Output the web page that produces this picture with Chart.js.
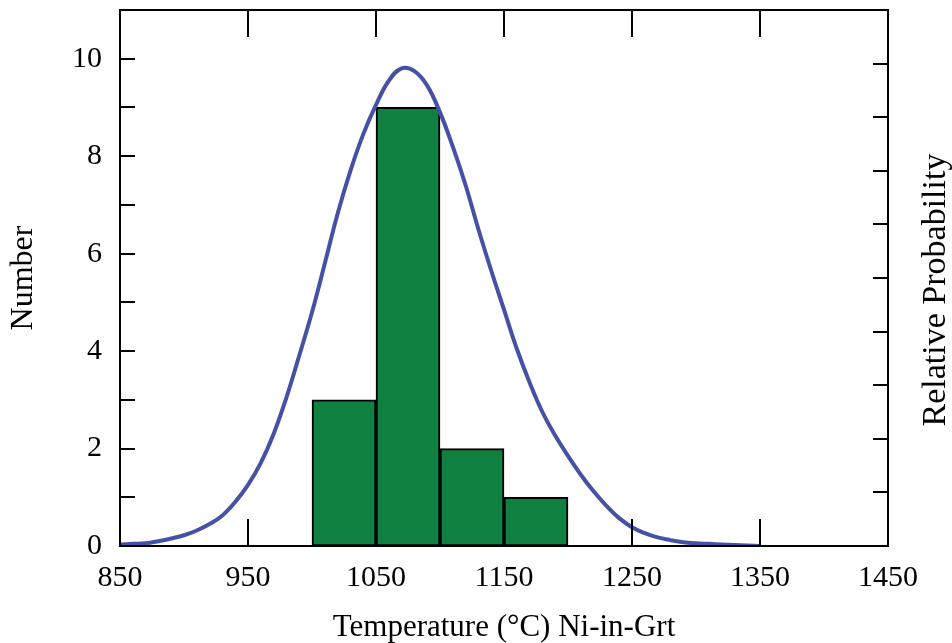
<!DOCTYPE html>
<html>
<head>
<meta charset="utf-8">
<script src="https://cdn.jsdelivr.net/npm/chart.js@4.4.1/dist/chart.umd.min.js"></script>
<style>
  html, body { margin: 0; padding: 0; background: #fff; }
  #wrap { width: 952px; height: 643px; }
</style>
</head>
<body>
<div id="wrap"><canvas id="tempChart" width="952" height="643"></canvas></div>
<script>
// histogram bins (deg C) and counts
const binEdges = [1000, 1050, 1100, 1150, 1200];
const binCounts = [3, 9, 2, 1];

// relative probability curve, sampled every 10 deg C
const curveTemps = [
  850, 860, 870, 880, 890, 900, 910, 920, 930, 940,
  950, 960, 970, 980, 990, 1000, 1010, 1020, 1030, 1040,
  1050, 1060, 1070, 1080, 1090, 1100, 1110, 1120, 1130, 1140,
  1150, 1160, 1170, 1180, 1190, 1200, 1210, 1220, 1230, 1240,
  1250, 1260, 1270, 1280, 1290, 1300, 1310, 1320, 1330, 1340, 1350
];
const curveProb = [
  0.003, 0.004, 0.005, 0.009, 0.014, 0.020, 0.029, 0.041, 0.057, 0.082,
  0.114, 0.155, 0.209, 0.277, 0.355, 0.436, 0.527, 0.620, 0.700, 0.768,
  0.823, 0.868, 0.891, 0.886, 0.859, 0.809, 0.745, 0.673, 0.591, 0.514,
  0.441, 0.368, 0.305, 0.250, 0.206, 0.168, 0.133, 0.102, 0.075, 0.052,
  0.035, 0.024, 0.016, 0.011, 0.007, 0.005, 0.004, 0.003, 0.002, 0.001, 0.000
];

const xTicks = [850, 950, 1050, 1150, 1250, 1350, 1450];
const xTitle = 'Temperature (\u00B0C) Ni-in-Grt';
const yTitle = 'Number';
const y2Title = 'Relative Probability';

const serif = "'Liberation Serif', 'DejaVu Serif', serif";

const barData = binCounts.map((c, i) => ({ x: (binEdges[i] + binEdges[i + 1]) / 2, y: c }));
const curveData = curveTemps.map((t, i) => ({ x: t, y: curveProb[i] }));

// keep the plot box fixed: no extra room for overhanging tick labels
const noOverhang = s => {
  s.paddingTop = 0; s.paddingBottom = 0;
  s.paddingLeft = 0; s.paddingRight = 0;
};

// frame, inward ticks and the right-hand title
const frameTicks = {
  id: 'frameTicks',
  afterDraw(chart) {
    const { ctx, chartArea: a, scales } = chart;
    ctx.save();
    ctx.strokeStyle = '#000';
    ctx.lineWidth = 2;
    ctx.strokeRect(a.left, a.top, a.right - a.left, a.bottom - a.top);
    ctx.beginPath();
    scales.x.ticks.forEach(t => {
      const px = Math.round(scales.x.getPixelForValue(t.value));
      ctx.moveTo(px, a.bottom); ctx.lineTo(px, a.bottom - 27);
      ctx.moveTo(px, a.top); ctx.lineTo(px, a.top + 27);
    });
    scales.y.ticks.forEach(t => {
      const py = Math.round(scales.y.getPixelForValue(t.value));
      ctx.moveTo(a.left, py); ctx.lineTo(a.left + 15, py);
    });
    scales.y2.ticks.forEach(t => {
      const py = Math.round(scales.y2.getPixelForValue(t.value));
      ctx.moveTo(a.right, py); ctx.lineTo(a.right - 15, py);
    });
    ctx.stroke();

    ctx.fillStyle = '#000';
    ctx.font = '34px ' + serif;
    ctx.textAlign = 'center';
    ctx.textBaseline = 'middle';
    ctx.translate(a.right + 48, (a.top + a.bottom) / 2 + 12);
    ctx.rotate(-Math.PI / 2);
    ctx.fillText(y2Title, 0, 0);
    ctx.restore();
  }
};

new Chart(document.getElementById('tempChart'), {
  type: 'bar',
  data: {
    datasets: [
      {
        type: 'line',
        data: curveData,
        yAxisID: 'y2',
        borderColor: '#4650a5',
        borderWidth: 4,
        pointRadius: 0,
        tension: 0.4,
        fill: false
      },
      {
        type: 'bar',
        data: barData,
        yAxisID: 'y',
        backgroundColor: '#108040',
        borderColor: '#000',
        borderWidth: 2,
        borderSkipped: false,
        barPercentage: 1,
        categoryPercentage: 1
      }
    ]
  },
  options: {
    responsive: false,
    animation: false,
    layout: { padding: { top: 10, left: 0, right: 0, bottom: 0 } },
    plugins: { legend: { display: false }, tooltip: { enabled: false } },
    scales: {
      x: {
        type: 'linear',
        min: 850,
        max: 1450,
        offset: false,
        afterBuildTicks: s => { s.ticks = xTicks.map(v => ({ value: v })); },
        afterFit: s => { s.height = 97; noOverhang(s); },
        ticks: {
          color: '#000',
          font: { family: serif, size: 30 },
          padding: 14,
          maxRotation: 0,
          callback: v => String(v)
        },
        grid: { display: false, drawTicks: false },
        border: { display: false },
        title: { display: true, text: xTitle, color: '#000', font: { family: serif, size: 31, lineHeight: 1.0 }, padding: 0 }
      },
      y: {
        position: 'left',
        min: 0,
        max: 11,
        afterFit: s => { s.width = 120; noOverhang(s); },
        ticks: {
          stepSize: 1,
          autoSkip: false,
          color: '#000',
          padding: 18,
          font: { family: serif, size: 30 },
          callback: v => (v % 2 === 0 ? String(v) : '')
        },
        grid: { display: false, drawTicks: false },
        border: { display: false },
        title: { display: true, text: yTitle, color: '#000', font: { family: serif, size: 32, lineHeight: 1.45 }, padding: 0 }
      },
      y2: {
        position: 'right',
        min: 0,
        max: 1,
        afterFit: s => { s.width = 64; noOverhang(s); },
        ticks: { stepSize: 0.1, display: false },
        grid: { display: false, drawTicks: false },
        border: { display: false }
      }
    }
  },
  plugins: [frameTicks]
});
</script>
</body>
</html>
